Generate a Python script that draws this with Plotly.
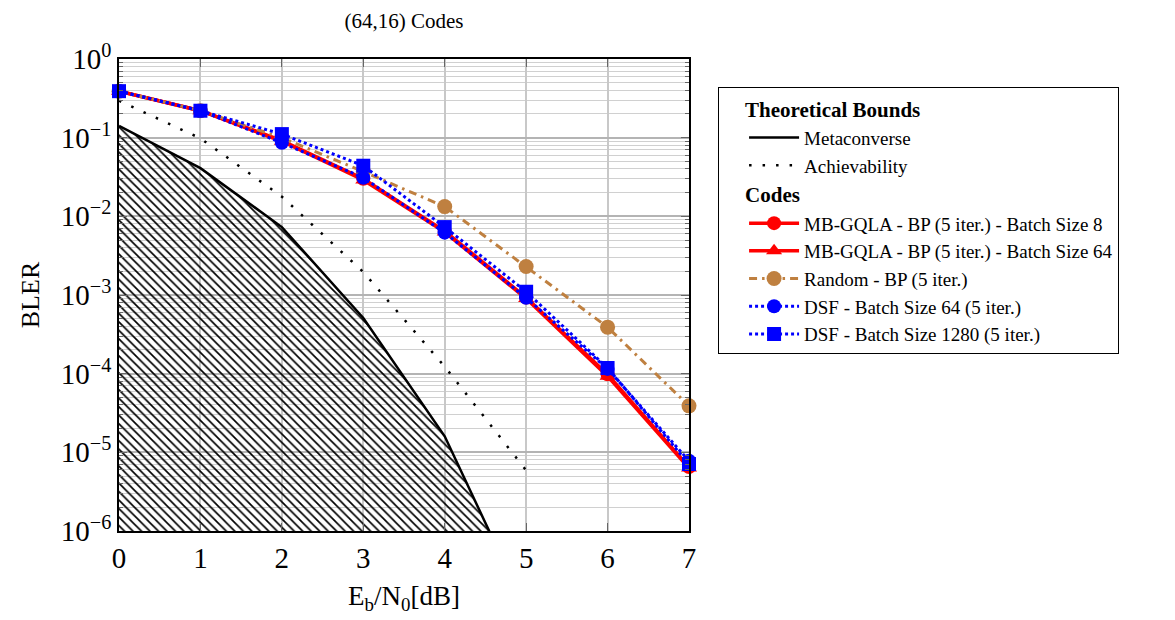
import plotly.graph_objects as go

# ---- data ----
ebn0 = [0, 1, 2, 3, 4, 5, 6, 7]
meta_x = [0, 1, 2, 3, 4, 5]
metaconverse = [0.141, 0.041, 0.0073, 5.1e-4, 1.6e-5, 1.0e-7]
ach_x = [0, 1, 2, 3, 4, 5]
achievability = [0.295, 0.098, 0.0178, 0.00196, 1.23e-4, 5.9e-6]
mb_gqla_bs8 = [0.39, 0.22, 0.092, 0.030, 0.0065, 0.00093, 9.8e-5, 6.5e-6]
mb_gqla_bs64 = [0.39, 0.22, 0.090, 0.029, 0.0063, 0.00090, 9.3e-5, 6.3e-6]
random_bp = [0.39, 0.22, 0.10, 0.037, 0.0133, 0.0023, 3.9e-4, 3.9e-5]
dsf_bs64 = [0.39, 0.22, 0.086, 0.031, 0.0062, 0.00092, 1.15e-4, 7.8e-6]
dsf_bs1280 = [0.39, 0.22, 0.111, 0.044, 0.0073, 0.0011, 1.18e-4, 7.1e-6]

ytick_vals = [1e-6, 1e-5, 1e-4, 1e-3, 1e-2, 1e-1, 1e0]
ytick_text = ["10<sup>\u22126</sup>", "10<sup>\u22125</sup>", "10<sup>\u22124</sup>",
              "10<sup>\u22123</sup>", "10<sup>\u22122</sup>", "10<sup>\u22121</sup>",
              "10<sup>0</sup>"]
minor_vals = [m * 10.0 ** e for e in range(-6, 0) for m in range(2, 10)]

FONT = "Liberation Serif"
RED = "#ff0000"
BLUE = "#0000ff"
BROWN = "#bf8040"
PAD = "\u00a0" * 4

# page body has an 8px margin, so the figure is sized/placed to compensate
W, H = 1167, 612
L, T, PW, PH = 111, 51, 570, 472

fig = go.Figure()

# hatched region under the metaconverse bound (no legend entry)
fig.add_trace(go.Scatter(
    x=meta_x, y=metaconverse, mode="lines", showlegend=False, hoverinfo="skip",
    line=dict(color="black", width=0),
    fill="tozeroy", fillcolor="rgba(0,0,0,0)",
    fillpattern=dict(shape="\\", fgcolor="black", bgcolor="rgba(0,0,0,0)",
                     size=6, solidity=0.28, fgopacity=1),
))
fig.add_trace(go.Scatter(
    x=meta_x, y=metaconverse, mode="lines", name="Metaconverse",
    line=dict(color="black", width=2.5),
    legendgroup="bounds", legendgrouptitle=dict(text=PAD + "<b>Theoretical Bounds</b>"),
))
fig.add_trace(go.Scatter(
    x=ach_x, y=achievability, mode="lines", name="Achievability",
    line=dict(color="black", width=2.5, dash="2.5px,11px"),
    legendgroup="bounds",
))

codes_title = dict(text=PAD + "<b>Codes</b>")
fig.add_trace(go.Scatter(
    x=ebn0, y=mb_gqla_bs8, mode="lines+markers",
    name="MB-GQLA - BP (5 iter.) - Batch Size 8",
    line=dict(color=RED, width=3.5), marker=dict(symbol="circle", size=14, color=RED),
    legendgroup="codes", legendgrouptitle=codes_title, cliponaxis=False,
))
fig.add_trace(go.Scatter(
    x=ebn0, y=mb_gqla_bs64, mode="lines+markers",
    name="MB-GQLA - BP (5 iter.) - Batch Size 64",
    line=dict(color=RED, width=3.5), marker=dict(symbol="triangle-up", size=14, color=RED),
    legendgroup="codes", cliponaxis=False,
))
fig.add_trace(go.Scatter(
    x=ebn0, y=random_bp, mode="lines+markers", name="Random - BP (5 iter.)",
    line=dict(color=BROWN, width=3, dash="8px,5px,2.5px,5px"),
    marker=dict(symbol="circle", size=15, color=BROWN),
    legendgroup="codes", cliponaxis=False,
))
fig.add_trace(go.Scatter(
    x=ebn0, y=dsf_bs64, mode="lines+markers", name="DSF - Batch Size 64 (5 iter.)",
    line=dict(color=BLUE, width=3, dash="3px,3px"),
    marker=dict(symbol="circle", size=14, color=BLUE),
    legendgroup="codes", cliponaxis=False,
))
fig.add_trace(go.Scatter(
    x=ebn0, y=dsf_bs1280, mode="lines+markers", name="DSF - Batch Size 1280 (5 iter.)",
    line=dict(color=BLUE, width=3, dash="3px,3px"),
    marker=dict(symbol="square", size=14, color=BLUE),
    legendgroup="codes", cliponaxis=False,
))

fig.update_layout(
    width=W, height=H,
    margin=dict(l=L, r=W - L - PW, t=T, b=H - T - PH),
    paper_bgcolor="white", plot_bgcolor="white",
    font=dict(family=FONT, color="black", size=19),
    title=dict(text="(64,16) Codes", x=(L + PW / 2) / W, xanchor="center",
               y=1 - 13 / H, yanchor="middle", font=dict(size=21, family=FONT)),
    showlegend=True,
    legend=dict(
        x=1.051, y=0.94, xanchor="left", yanchor="top",
        bordercolor="black", borderwidth=1, bgcolor="white",
        font=dict(size=19, family=FONT), itemwidth=50, tracegroupgap=0,
        indentation=25, groupclick="toggleitem",
    ),
)

fig.update_xaxes(
    range=[0, 7], tickvals=ebn0, ticktext=[str(v) for v in ebn0],
    showline=True, linecolor="black", linewidth=1.5, mirror="ticks",
    ticks="inside", ticklen=8, tickcolor="#666666", automargin=False,
    showgrid=True, gridcolor="#c8c8c8", gridwidth=1.5, zeroline=False,
    tickfont=dict(size=29, family=FONT),
    title=dict(text="E<sub>b</sub>/N<sub>0</sub>[dB]", font=dict(size=27, family=FONT), standoff=14),
)
fig.update_yaxes(
    type="log", range=[-6, 0], tickmode="array", tickvals=ytick_vals, ticktext=ytick_text,
    showline=True, linecolor="black", linewidth=1.5, mirror="ticks",
    ticks="inside", ticklen=8, tickcolor="#666666", automargin=False,
    showgrid=True, gridcolor="#b4b4b4", gridwidth=1.5, zeroline=False,
    minor=dict(tickmode="array", tickvals=minor_vals, ticks="inside", ticklen=4,
               tickcolor="#666666", showgrid=True, gridcolor="#d0d0d0", gridwidth=1),
    tickfont=dict(size=29, family=FONT),
    title=dict(text="BLER", font=dict(size=26, family=FONT), standoff=14),
)

fig.write_html("out.html")
